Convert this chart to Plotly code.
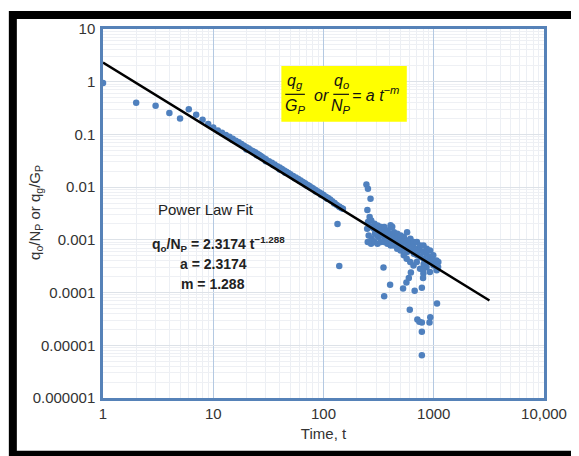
import plotly.graph_objects as go

# ---------------- data ----------------
early_t = [1, 2, 3, 4, 5, 6, 7, 8, 9]
early_y = [0.95, 0.40, 0.35, 0.254, 0.201, 0.302, 0.236, 0.190, 0.157]

band_t = [10, 11, 12, 13, 14, 15, 16, 17, 18, 19, 20, 21, 22, 23, 24, 25, 26, 27, 28, 29,
          30, 32, 34, 36, 38, 40, 42, 44, 46, 48, 50, 53, 56, 59, 62, 65, 68, 71, 74, 77,
          80, 84, 88, 92, 96, 100, 105, 110, 115, 120, 126, 132, 138, 145,
          15, 20, 25, 30, 35, 40, 45, 55, 60, 70, 75, 85, 95, 108, 125, 140, 150]
band_y = [0.136, 0.119, 0.108, 0.098, 0.090, 0.083, 0.076, 0.071, 0.066, 0.061, 0.057, 0.054,
          0.050, 0.048, 0.046, 0.043, 0.041, 0.039, 0.037, 0.035, 0.034, 0.031, 0.029, 0.027,
          0.025, 0.0235, 0.022, 0.0207, 0.0195, 0.0185, 0.0176, 0.0163, 0.0152, 0.0142,
          0.0133, 0.0125, 0.0118, 0.0111, 0.0106, 0.0100, 0.0095, 0.0089, 0.0084, 0.0079,
          0.0075, 0.0071, 0.0066, 0.0062, 0.0058, 0.0054, 0.0050, 0.0046, 0.0043, 0.0040,
          0.078, 0.052, 0.040, 0.031, 0.0262, 0.0215, 0.0188, 0.0148, 0.0134, 0.0108,
          0.0100, 0.0083, 0.0072, 0.0060, 0.0049, 0.0042, 0.0039]

spike_t = [245, 253, 267, 250, 262, 134]
spike_y = [0.0112, 0.0093, 0.0060, 0.0037, 0.0027, 0.0020]

cluster_t = [253, 249, 257, 252, 271, 268, 274, 270, 290, 287, 293, 289,
             310, 306, 313, 309, 332, 328, 335, 331, 356, 352, 359, 355,
             381, 377, 384, 380, 408, 404, 411, 407, 436, 432, 440, 435,
             467, 463, 471, 466, 501, 497, 505, 500, 536, 531, 540, 535,
             573, 569, 577, 572, 568, 614, 609, 618, 612, 657, 652, 661, 655,
             703, 698, 707, 701, 754, 749, 758, 752, 807, 802, 811, 805,
             863, 858, 867, 861, 925, 920, 929, 923, 990, 985, 994,
             1059, 1054, 1063, 1100, 1095, 420, 406]
cluster_y = [0.00217, 0.00162, 0.00121, 0.000906, 0.00233, 0.00175, 0.00105, 0.000844,
             0.00202, 0.00162, 0.00130, 0.000906, 0.00188, 0.00151, 0.00113, 0.000844,
             0.00175, 0.00140, 0.00121, 0.000906, 0.00175, 0.00140, 0.00113, 0.000906,
             0.00151, 0.00130, 0.00105, 0.000844, 0.00175, 0.00130, 0.000977, 0.000785,
             0.00140, 0.00113, 0.000906, 0.000785, 0.00130, 0.00105, 0.000844, 0.000679,
             0.00121, 0.000977, 0.000785, 0.000631, 0.00113, 0.000906, 0.000679, 0.000508,
             0.00140, 0.000977, 0.000785, 0.000586, 0.000440,
             0.00105, 0.000844, 0.000631, 0.000379, 0.000906, 0.000731, 0.000546, 0.000328,
             0.000906, 0.000679, 0.000508, 0.000379, 0.000785, 0.000631, 0.000472, 0.000284,
             0.000785, 0.000586, 0.000440, 0.000229, 0.000679, 0.000546, 0.000408, 0.000305,
             0.000631, 0.000472, 0.000379, 0.000245, 0.000508, 0.000408, 0.000328,
             0.000408, 0.000328, 0.000264, 0.000379, 0.000305, 0.00177, 0.0019]

outlier_t = [139, 350, 355, 402, 527, 565, 594, 620, 671, 780, 800, 805, 810,
             606, 710, 740, 780, 930, 915, 780, 780, 1070]
outlier_y = [3.2e-4, 3.0e-4, 8.5e-5, 1.4e-4, 1.2e-4, 1.56e-4, 1.9e-4, 2.4e-4, 1.08e-4,
             1.23e-4, 1.9e-4, 2.7e-4, 3.5e-4, 4.7e-5, 3.1e-5, 2.8e-5, 2.7e-5, 3.4e-5,
             2.7e-5, 1.8e-5, 6.5e-6, 6.2e-5]

fit_t = [1, 3200]
fit_y = [2.3174, 7.09e-5]

x_tickvals = [1, 10, 100, 1000, 10000]
x_ticktext = ["1", "10", "100", "1000", "10,000"]
y_tickvals = [1e-6, 1e-5, 1e-4, 1e-3, 1e-2, 1e-1, 1, 10]
y_ticktext = ["0.000001", "0.00001", "0.0001", "0.001", "0.01", "0.1", "1", "10"]

# ---------------- layout helpers ----------------
# the page body adds an 8px margin, so the figure is drawn 8px smaller and
# every reference pixel position is shifted by OFF
OFF = 8
W, H = 579 - OFF, 456 - OFF
L, R, T, B = 103, 553, 28, 398          # plot area in reference pixels


def px(x):
    return (x - L) / (R - L)


def py(y):
    return (B - y) / (B - T)


FONT = "Liberation Sans, Arial, sans-serif"
TXT = "#333333"

all_t = early_t + band_t + spike_t + cluster_t + outlier_t
all_y = early_y + band_y + spike_y + cluster_y + outlier_y

fig = go.Figure()
fig.add_trace(go.Scatter(
    x=all_t, y=all_y, mode="markers",
    marker=dict(color="#4f80be", size=6.5, line=dict(width=0)),
    showlegend=False, name="data"))
fig.add_trace(go.Scatter(
    x=fit_t, y=fit_y, mode="lines",
    line=dict(color="black", width=2.5),
    showlegend=False, name="Power Law Fit"))

axis_common = dict(
    showline=True, mirror=True, linecolor="#5682b8", linewidth=2.5,
    ticks="", zeroline=False,
    tickfont=dict(family=FONT, size=15, color=TXT),
)

fig.update_xaxes(
    type="log", range=[0, 4], tickmode="array",
    tickvals=x_tickvals, ticktext=x_ticktext,
    showgrid=True, gridcolor="#b4c9e2", gridwidth=1,
    minor=dict(showgrid=True, gridcolor="#eceff4", gridwidth=1, dtick="D1", tickmode="linear"),
    title=dict(text="Time, t", font=dict(family=FONT, size=15, color=TXT), standoff=8),
    **axis_common)
fig.update_yaxes(
    type="log", range=[-6, 1], tickmode="array",
    tickvals=y_tickvals, ticktext=y_ticktext,
    showgrid=True, gridcolor="#dde2e8", gridwidth=1,
    minor=dict(showgrid=True, gridcolor="#eef0f4", gridwidth=1, dtick="D1", tickmode="linear"),
    ticklabelstandoff=2,
    **axis_common)


def note(text, x, y, size, color="#222222", xanchor="center", angle=0):
    return dict(text=text, xref="paper", yref="paper", x=px(x), y=py(y),
                showarrow=False, xanchor=xanchor, yanchor="middle", textangle=angle,
                font=dict(family=FONT, size=size, color=color))


annotations = [
    # y-axis title
    note("q<sub>o</sub>/N<sub>P</sub> or q<sub>g</sub>/G<sub>P</sub>", 34, 212, 15, TXT, angle=-90),
    # power law text block
    note("Power Law Fit", 208, 209, 15),
    note("<b>q<sub>o</sub>/N<sub>P</sub> = 2.3174 t<sup>−1.288</sup></b>", 221, 244, 14),
    note("<b>a = 2.3174</b>", 216, 264, 14),
    note("<b>m = 1.288</b>", 215, 284, 14),
    # yellow box equation
    note("<i>q<sub>g</sub></i>", 299, 81, 16, "#111111"),
    note("<i>G<sub>P</sub></i>", 299, 106, 16, "#111111"),
    note("<i>or</i>", 326, 95, 16, "#111111"),
    note("<i>q<sub>o</sub></i>", 346, 81, 16, "#111111"),
    note("<i>N<sub>P</sub></i>", 346, 106, 16, "#111111"),
    note("<i>= a t<sup>−m</sup></i>", 355, 93, 16, "#111111", xanchor="left"),
]

shapes = [
    # yellow box
    dict(type="rect", xref="paper", yref="paper", x0=px(285), x1=px(413), y0=py(121), y1=py(65),
         fillcolor="#ffff00", line=dict(width=0), layer="above"),
    # fraction bars
    dict(type="line", xref="paper", yref="paper", x0=px(289), x1=px(309), y0=py(93.5), y1=py(93.5),
         line=dict(color="#111111", width=1.2), layer="above"),
    dict(type="line", xref="paper", yref="paper", x0=px(338), x1=px(354), y0=py(93.5), y1=py(93.5),
         line=dict(color="#111111", width=1.2), layer="above"),
    # outer black frame (right side lies outside the picture)
    dict(type="rect", xref="paper", yref="paper", x0=px(11), x1=px(640), y0=py(455), y1=py(14),
         line=dict(color="black", width=8), fillcolor="rgba(0,0,0,0)", layer="above"),
]

fig.update_layout(
    width=W, height=H, autosize=False,
    margin=dict(l=L - OFF, r=(579 - OFF) - (R - OFF), t=T - OFF, b=(456 - OFF) - (B - OFF)),
    paper_bgcolor="white", plot_bgcolor="white",
    annotations=annotations, shapes=shapes,
    font=dict(family=FONT, color=TXT),
)

fig.write_html("out.html")
